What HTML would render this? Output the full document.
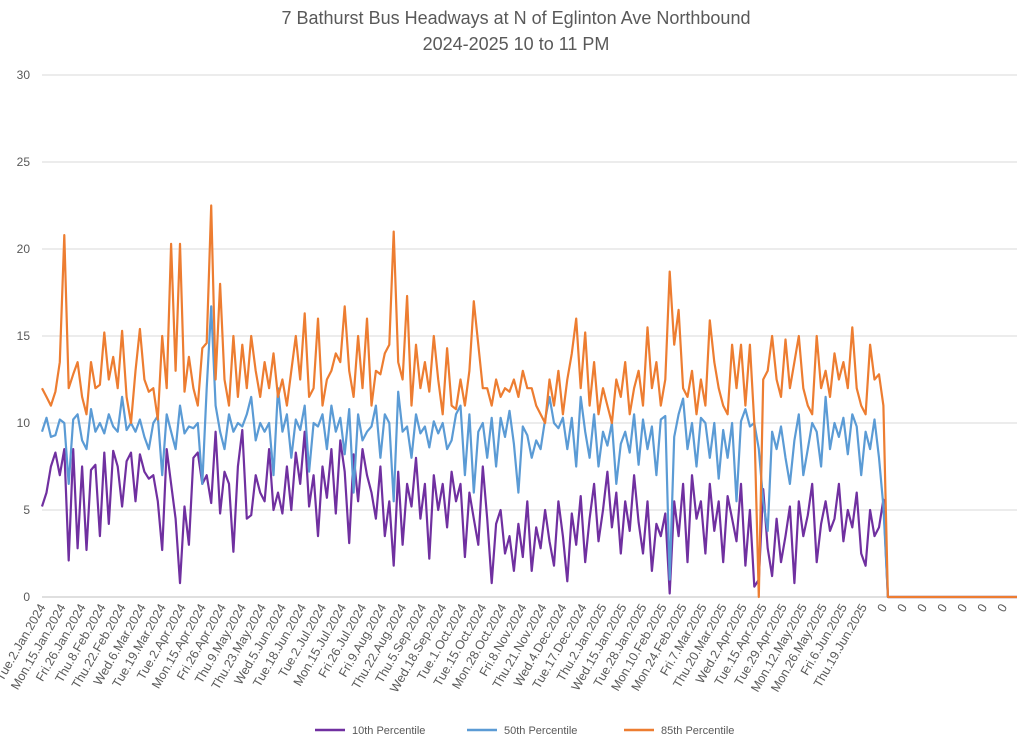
<!DOCTYPE html>
<html><head><meta charset="utf-8"><style>
body{margin:0;background:#fff;}
svg{display:block;font-family:"Liberation Sans",sans-serif;}
</style></head><body>
<svg id="chart" width="1024" height="743" viewBox="0 0 1024 743">
<text x="516" y="24" text-anchor="middle" font-size="18" fill="#595959">7 Bathurst Bus Headways at N of Eglinton Ave Northbound</text>
<text x="516" y="50" text-anchor="middle" font-size="18" fill="#595959">2024-2025 10 to 11 PM</text>
<g id="grid"></g>
<g id="ylabels"></g>
<g id="xlabels"></g>
<g id="series"></g>
<g>
<g><line x1="315" y1="730" x2="345" y2="730" stroke="#7030a0" stroke-width="2.5"/><text x="352" y="734" font-size="11" fill="#595959">10th Percentile</text></g>
<g><line x1="467" y1="730" x2="497" y2="730" stroke="#5b9bd5" stroke-width="2.5"/><text x="504" y="734" font-size="11" fill="#595959">50th Percentile</text></g>
<g><line x1="624" y1="730" x2="654" y2="730" stroke="#ed7d31" stroke-width="2.5"/><text x="661" y="734" font-size="11" fill="#595959">85th Percentile</text></g>
</g>
</svg>
<script>
const categories = ["Tue.2.Jan.2024","Mon.15.Jan.2024","Fri.26.Jan.2024","Thu.8.Feb.2024","Thu.22.Feb.2024","Wed.6.Mar.2024","Tue.19.Mar.2024","Tue.2.Apr.2024","Mon.15.Apr.2024","Fri.26.Apr.2024","Thu.9.May.2024","Thu.23.May.2024","Wed.5.Jun.2024","Tue.18.Jun.2024","Tue.2.Jul.2024","Mon.15.Jul.2024","Fri.26.Jul.2024","Fri.9.Aug.2024","Thu.22.Aug.2024","Thu.5.Sep.2024","Wed.18.Sep.2024","Tue.1.Oct.2024","Tue.15.Oct.2024","Mon.28.Oct.2024","Fri.8.Nov.2024","Thu.21.Nov.2024","Wed.4.Dec.2024","Tue.17.Dec.2024","Thu.2.Jan.2025","Wed.15.Jan.2025","Tue.28.Jan.2025","Mon.10.Feb.2025","Mon.24.Feb.2025","Fri.7.Mar.2025","Thu.20.Mar.2025","Wed.2.Apr.2025","Tue.15.Apr.2025","Tue.29.Apr.2025","Mon.12.May.2025","Mon.26.May.2025","Fri.6.Jun.2025","Thu.19.Jun.2025","0","0","0","0","0","0","0"];
const yTicks = [0,5,10,15,20,25,30];
const p85 = [12,11.5,11,11.8,13.5,20.8,12,12.8,13.5,11.5,
10.5,13.5,12,12.2,15.2,12.5,13.8,12,15.3,11.5,
10,13,15.4,12.5,11.8,12,10.2,15,12,20.3,
13,20.3,11.8,13.8,12,11,14.3,14.6,22.5,12.5,
18,12.5,11,15,11.5,14.5,12,15,13,11.5,
13.5,12,14,11.5,12.5,11,13,15,12.5,16.3,
11.5,12,16,11,12.5,13,14,13.5,16.7,13,
11.5,15,12,16,11,13,12.8,14,14.5,21,
13.5,12.5,17.3,11,14.5,12,13.5,11.8,15,12.5,
10.5,14.3,11,10.8,12.5,11,13,17,14.5,12,
12,11,12.5,11.5,12,11.8,12.5,11.5,13,12,
12,11,10.5,10,12.5,11,13,10.5,12.5,14,
16,12,15.2,11,13.5,10.5,12,11,10,12.5,
11.5,13.5,10.5,12,13,11,15.5,12,13.5,11,
12.5,18.7,14.5,16.5,12,11.5,13,10.5,12.5,11,
15.9,13.5,12,11,10.5,14.5,12,14.5,11,14.5,
10,0,12.5,13,15,12.5,11.5,14.8,12,13.5,
15,12,11,10.5,15,12,13,11.5,14,12.5,
13.5,12,15.5,12,11,10.5,14.5,12.5,12.8,11,
0,0,0,0,0,0,0,0,0,0,0,0,0,0,0,0,0,0,0,0,0,0,0,0,0,0,0,0,0,0];
const p50 = [9.5,10.3,9.2,9.3,10.2,10,6.5,10.2,10.5,9,
8.5,10.8,9.5,10,9.4,10.5,9.8,9.5,11.5,9.6,
10,9.5,10.2,9.2,8.5,10,10.4,7,10.5,9.5,
8.5,11,9.4,9.8,9.7,10,6.5,12,16.7,11,
9.5,8.5,10.5,9.5,10,9.8,10.5,11.5,9,10,
9.5,10,7,12,9.5,10.5,8,10.2,9.6,11,
7.2,10,9.8,10.5,8.5,11,9.5,10.3,8.2,10.8,
6,10.5,9,9.5,9.8,11,8,10.5,10,5.5,
11.8,9.5,9.8,8,10.5,9.4,9.8,8.6,10.1,9.4,
10,8.5,9,10.5,11,7,10.5,6,9.5,10,
8,10.3,7.5,10.3,9.2,10.7,8.8,6,9.8,9.3,
8,9,8.5,10.2,11.5,10,9.7,10.3,8.5,10.3,
7.5,11.5,9.5,8,10.5,7.5,9.5,8.7,10,6.5,
8.8,9.5,8.3,10.5,7.6,10.2,8.5,9.8,7,10.2,
10.4,1,9.2,10.5,11.4,8.5,10,7.5,10.3,10,
8,10,6.8,9.6,8,10,5.5,10.1,10.8,9.8,
10,8.5,5.5,3.8,9.5,8.5,9.8,8,6.5,9,
10.5,7,8.5,10,9.5,7.5,11.5,8.5,10,9.2,
10.3,8.2,10.5,9.8,7,9.5,8.5,10.2,8,5.2,
0,0,0,0,0,0,0,0,0,0,0,0,0,0,0,0,0,0,0,0,0,0,0,0,0,0,0,0,0,0];
const p10 = [5.2,6,7.5,8.3,7,8.5,2.1,8.5,2.8,7.5,
2.7,7.3,7.6,3.5,8.3,4.2,8.4,7.5,5.2,7.8,
8.3,5.5,8.2,7.2,6.8,7,5.5,2.7,8.5,6.5,
4.5,0.8,5.2,3,8,8.3,6.5,7,5.4,9.5,
4.8,7.2,6.5,2.6,7.5,9.6,4.5,4.7,7,6,
5.5,8.5,5,6,4.8,7.5,5,8.3,6.5,9.5,
5.2,7,3.5,7.5,5.7,8.5,4.8,9,7.2,3.1,
8.2,5.5,8.5,7,6,4.5,7.5,3.5,5.5,1.8,
7.2,3,6.5,5.2,8,4.5,6.5,2.2,7,5,
6.5,4,7.2,5.5,6.5,2.3,6,4.5,3,7.5,
4.5,0.8,4.2,5,2.5,3.5,1.5,4.2,2.3,5.5,
1.5,4,2.8,5,3.2,1.8,5.5,3.5,0.9,4.8,
3,5.8,2,4.5,6.5,3.2,5,7.2,4,6,
2.5,5.5,3.8,7,4.3,2.5,5.5,1.5,4.2,3.5,
4.8,0.2,5.5,3.5,6.5,2,7,4.5,5.5,2.5,
6.5,3.8,5.5,2,5.8,4.5,3.2,6.5,1.8,5,
0.6,1,6.2,2.8,1.2,4.5,2,3.5,5.2,0.8,
5.5,3.5,4.7,6.5,2,4.2,5.5,3.8,4.5,6.5,
3.2,5,4,6,2.5,1.8,5,3.5,4,5.6,
0,0,0,0,0,0,0,0,0,0,0,0,0,0,0,0,0,0,0,0,0,0,0,0,0,0,0,0,0,0];

const NS = "http://www.w3.org/2000/svg";
const X0 = 42, X1 = 1017, Y0 = 597, Y1 = 75, YMAX = 30;
const nPts = p85.length;
const perLabel = (nPts - 4) / (categories.length - 1);
function xScale(i){ return X0 + i * (X1 - X0) / (nPts - 1); }
function yScale(v){ return Y0 - v / YMAX * (Y0 - Y1); }

const grid = document.getElementById('grid');
const yl = document.getElementById('ylabels');
yTicks.forEach(t => {
  const l = document.createElementNS(NS,'line');
  
  
  l.setAttribute('x1',X0); l.setAttribute('x2',X1);
  l.setAttribute('y1',yScale(t)); l.setAttribute('y2',yScale(t));
  l.setAttribute('stroke', t === 0 ? '#bfbfbf' : '#d9d9d9'); l.setAttribute('stroke-width','1');
  grid.appendChild(l);
  const tx = document.createElementNS(NS,'text');
  
  
  tx.setAttribute('x',30); tx.setAttribute('y',yScale(t)+4);
  tx.setAttribute('text-anchor','end'); tx.setAttribute('font-size','12'); tx.setAttribute('fill','#595959');
  tx.textContent = t;
  yl.appendChild(tx);
});

const xl = document.getElementById('xlabels');
categories.forEach((c,k) => {
  const x = xScale(k * perLabel) + 4;
  const tx = document.createElementNS(NS,'text');
  
  
  tx.setAttribute('transform','translate(' + x + ',607) rotate(-60)');
  tx.setAttribute('text-anchor','end'); tx.setAttribute('font-size','12.5'); tx.setAttribute('fill','#595959');
  tx.textContent = c;
  xl.appendChild(tx);
});

const sg = document.getElementById('series');
[[p10,'#7030a0','line-10th-percentile'],[p50,'#5b9bd5','line-50th-percentile'],[p85,'#ed7d31','line-85th-percentile']].forEach(s => {
  const p = document.createElementNS(NS,'polyline');
  
  
  p.setAttribute('points', s[0].map((v,i) => xScale(i).toFixed(1) + ',' + yScale(v).toFixed(1)).join(' '));
  p.setAttribute('fill','none'); p.setAttribute('stroke',s[1]); p.setAttribute('stroke-width','2.2');
  p.setAttribute('stroke-linejoin','round');
  sg.appendChild(p);
});
</script>
</body></html>
